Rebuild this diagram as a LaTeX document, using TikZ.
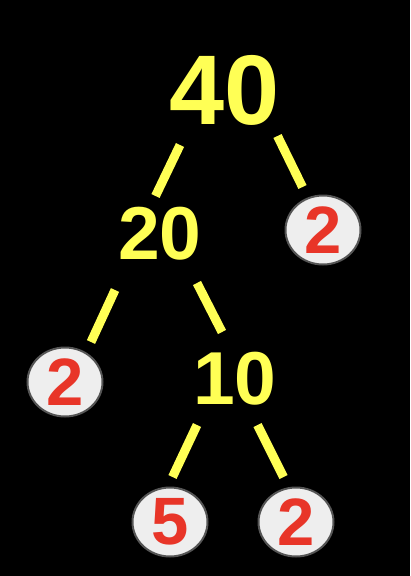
\documentclass[tikz,border=0pt]{standalone}
\usepackage{fontspec}
\setmainfont{Liberation Sans}
\usetikzlibrary{shapes.geometric}
\definecolor{branchyellow}{RGB}{255,255,85}
\definecolor{primered}{RGB}{232,53,40}
\definecolor{leafgray}{RGB}{238,238,238}
\definecolor{rimgray}{RGB}{85,85,85}
\tikzset{
  factor/.style={text=branchyellow, inner sep=0pt, font=\bfseries\fontsize{75}{75}\selectfont},
  leaf/.style={ellipse, draw=rimgray, line width=2pt, fill=leafgray, text=primered, inner sep=0pt,
    minimum width=75pt, minimum height=69pt, font=\bfseries\fontsize{67}{67}\selectfont},
  branch/.style={draw=branchyellow, line width=9pt}
}
\begin{document}
\begin{tikzpicture}[x=1pt,y=-1pt]
\fill[black] (0,0) rectangle (410,576);

\node[factor, font=\bfseries\fontsize{99}{99}\selectfont] (n40) at (225,90) {40};
\node[factor] (n20) at (160,234) {20};
\node[factor] (n10) at (235,379) {10};
\node[leaf] (p2a) at (323,230) {2};
\node[leaf] (p2b) at (65,382) {2};
\node[leaf] (p5) at (170,522) {5};
\node[leaf] (p2c) at (296,522) {2};

\draw[branch] ([shift={(-45,55)}]n40.center) -- ([shift={(-4.5,-38)}]n20.center);
\draw[branch] ([shift={(52.5,46)}]n40.center) -- ([shift={(-20.5,-43)}]p2a.center);
\draw[branch] ([shift={(-45,56)}]n20.center) -- ([shift={(26,-40)}]p2b.center);
\draw[branch] ([shift={(37,49)}]n20.center) -- ([shift={(-13,-47)}]n10.center);
\draw[branch] ([shift={(-38,46)}]n10.center) -- ([shift={(2.5,-45)}]p5.center);
\draw[branch] ([shift={(22.5,46)}]n10.center) -- ([shift={(-12.5,-45)}]p2c.center);
\end{tikzpicture}
\end{document}
